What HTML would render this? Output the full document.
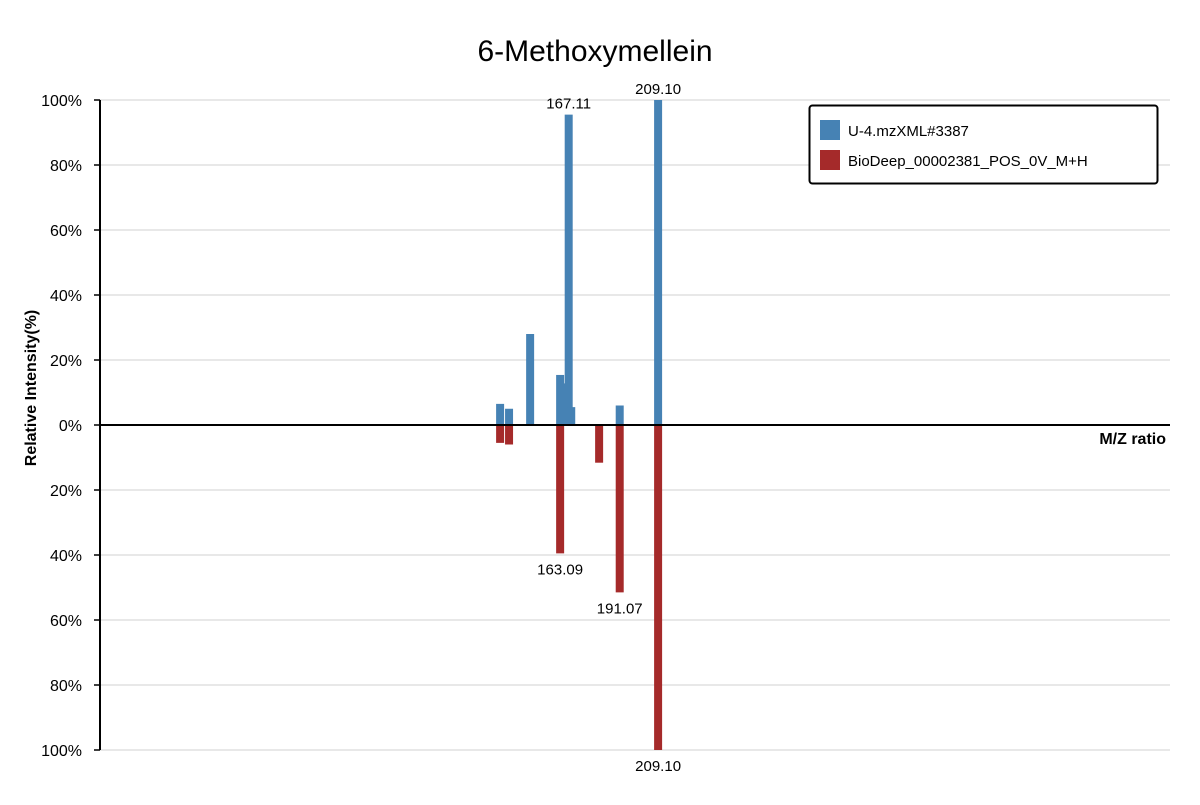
<!DOCTYPE html>
<html><head><meta charset="utf-8"><style>
body{margin:0;background:#fff;}
svg text{font-family:"Liberation Sans",sans-serif;fill:#000;}
</style></head><body>
<svg id="chart" width="1200" height="800" xmlns="http://www.w3.org/2000/svg">
<text x="595" y="61" font-size="30" text-anchor="middle">6-Methoxymellein</text>
<g id="grid"></g>
<g id="bars"></g>
<g id="axes"></g>
<g>
<rect x="809.5" y="105.5" width="348" height="78" rx="3" fill="#fff" stroke="#000" stroke-width="2"/>
<rect x="820" y="120" width="20" height="20" fill="#4682b4"/>
<text x="848" y="136" font-size="15">U-4.mzXML#3387</text>
<rect x="820" y="150" width="20" height="20" fill="#a52a2a"/>
<text x="848" y="166" font-size="15">BioDeep_00002381_POS_0V_M+H</text>
</g>
</svg>
<script>
const sampleMz=[134.9,139.1,149.0,163.09,165.2,167.11,168.3,191.07,209.10];
const sampleInt=[6.5,5,28,15.4,12.8,95.5,5.5,6,100];
const refMz=[134.9,139.1,163.09,181.4,191.07,209.10];
const refInt=[5.5,6,39.5,11.6,51.5,100];
const labeledSample=[167.11,209.10];
const labeledRef=[163.09,191.07,209.10];
const yTicks=[100,80,60,40,20,0,20,40,60,80,100];

const NS='http://www.w3.org/2000/svg';
const X0=100,X1=1170,Y0=425,H=325;
const xs=m=>100+(m-(-53))*(1070/(449.5-(-53)));
const yUp=v=>Y0-v/100*H, yDn=v=>Y0+v/100*H;
function mk(tag,attrs,parent){const e=document.createElementNS(NS,tag);for(const k in attrs)e.setAttribute(k,attrs[k]);parent.appendChild(e);return e;}
const grid=document.getElementById('grid'),bars=document.getElementById('bars'),axes=document.getElementById('axes');
yTicks.forEach((t,i)=>{
  const y=Y0-H+i*(H*2/(yTicks.length-1));
  if(i!==5){const l=mk('line',{x1:X0,x2:X1,y1:y,y2:y,stroke:'#e0e0e0','stroke-width':1.5},grid);
  
  }
  mk('line',{x1:X0-6,x2:X0,y1:y,y2:y,stroke:'#000','stroke-width':1.5},axes);
  const tx=mk('text',{x:X0-18,y:y+6,'font-size':16,'text-anchor':'end'},axes);
  tx.textContent=t+'%';
  
  
});
sampleMz.forEach((m,i)=>{
  const r=mk('rect',{x:xs(m)-4,y:yUp(sampleInt[i]),width:8,height:sampleInt[i]/100*H,fill:'#4682b4'},bars);
  
  
  if(labeledSample.includes(m)){const t=mk('text',{x:xs(m),y:yUp(sampleInt[i])-6,'font-size':15,'text-anchor':'middle'},bars);t.textContent=m.toFixed(2);
  
  }
});
refMz.forEach((m,i)=>{
  const r=mk('rect',{x:xs(m)-4,y:Y0,width:8,height:refInt[i]/100*H,fill:'#a52a2a'},bars);
  
  
  if(labeledRef.includes(m)){const t=mk('text',{x:xs(m),y:yDn(refInt[i])+21,'font-size':15,'text-anchor':'middle'},bars);t.textContent=m.toFixed(2);
  
  }
});
mk('line',{x1:X0,x2:X0,y1:100,y2:750,stroke:'#000','stroke-width':2},axes);
mk('line',{x1:X0,x2:X1,y1:Y0,y2:Y0,stroke:'#000','stroke-width':2},axes);
const xt=mk('text',{x:1166,y:444,'font-size':16,'font-weight':'bold','text-anchor':'end'},axes);xt.textContent='M/Z ratio';


const yt=mk('text',{x:0,y:0,'font-size':16,'font-weight':'bold','text-anchor':'middle',transform:'translate(36,388) rotate(-90)'},axes);yt.textContent='Relative Intensity(%)';


</script>
</body></html>
